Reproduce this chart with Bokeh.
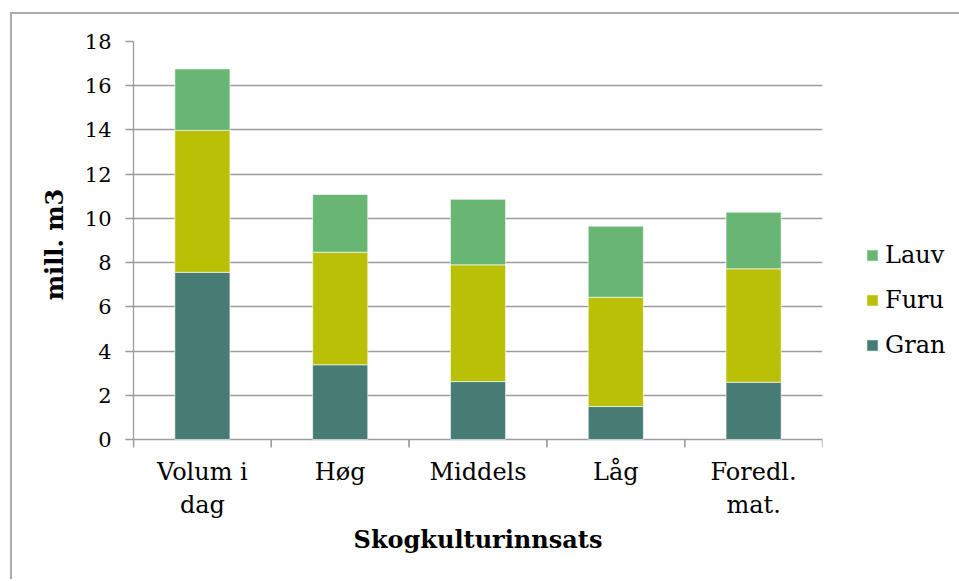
from bokeh.plotting import figure
from bokeh.models import (ColumnDataSource, FactorRange, Range1d, FixedTicker, Legend, LegendItem)
from bokeh.transform import dodge
from bokeh.embed import file_html
from bokeh.resources import INLINE

# ---- data ----
categories = ["Volum i\ndag", "Høg", "Middels", "Låg", "Foredl.\nmat."]
series = ["Gran", "Furu", "Lauv"]
gran = [7.56, 3.38, 2.62, 1.49, 2.59]
furu = [6.42, 5.09, 5.28, 4.94, 5.13]
lauv = [2.78, 2.61, 2.96, 3.22, 2.56]
y_ticks = [0, 2, 4, 6, 8, 10, 12, 14, 16, 18]
y_title = "mill. m3"
x_title = "Skogkulturinnsats"

# ---- style ----
colors = ["#467c73", "#b9c006", "#69b674"]
FONT = "DejaVu Serif"
GRID = "#9c9c9c"
TICK_EXT = 0.362  # room below zero for the category boundary tick marks (~8px)

source = ColumnDataSource(dict(cat=categories, Gran=gran, Furu=furu, Lauv=lauv,
                               base=[y_ticks[0]] * len(categories),
                               low=[y_ticks[0] - TICK_EXT] * len(categories)))

p = figure(frame_width=689, frame_height=406,
           x_range=FactorRange(factors=categories),
           y_range=Range1d(y_ticks[0] - TICK_EXT, y_ticks[-1]),
           output_backend="svg", toolbar_location=None,
           min_border_left=121, min_border_right=137, min_border_top=27, min_border_bottom=132)
p.styles = {"border-top": "2px solid #ababab", "border-left": "2px solid #ababab",
            "border-right": "0px none white", "border-bottom": "0px none white",
            "outline": "none", "box-shadow": "none",
            "clip-path": "inset(0px 6px 0px 0px)",
            "margin-left": "10px", "margin-top": "12px"}
p.outline_line_color = None
p.background_fill_color = "white"
p.border_fill_color = "white"

renderers = p.vbar_stack(series, x="cat", width=0.4, color=colors, source=source,
                         line_color="white", line_alpha=0.6, line_width=1)

# category boundary tick marks
for off in (-0.5, 0.5):
    p.segment(x0=dodge("cat", off, range=p.x_range), y0="base",
              x1=dodge("cat", off, range=p.x_range), y1="low",
              source=source, line_color=GRID, line_width=1.3)

# grid
p.xgrid.visible = False
p.ygrid.ticker = FixedTicker(ticks=y_ticks)
p.ygrid.grid_line_color = GRID
p.ygrid.grid_line_width = 1.3

# y axis
yax = p.yaxis[0]
yax.ticker = FixedTicker(ticks=y_ticks)
yax.major_tick_out = 8
yax.major_tick_in = 0
yax.minor_tick_out = 0
yax.minor_tick_in = 0
yax.axis_line_color = GRID
yax.axis_line_width = 1.3
yax.major_tick_line_color = GRID
yax.major_tick_line_width = 1.3
yax.major_label_text_font = FONT
yax.major_label_text_font_size = "21px"
yax.major_label_text_color = "black"
yax.major_label_standoff = 14
yax.axis_label = y_title
yax.axis_label_text_font = FONT
yax.axis_label_text_font_style = "bold"
yax.axis_label_text_font_size = "24px"
yax.axis_label_text_color = "black"
yax.axis_label_standoff = 13

# x axis
xax = p.xaxis[0]
xax.axis_line_color = None
xax.major_tick_line_color = None
xax.major_tick_out = 0
xax.major_tick_in = 0
xax.major_label_text_font = FONT
xax.major_label_text_font_size = "24px"
xax.major_label_text_color = "black"
xax.major_label_standoff = 10
xax.axis_label = x_title
xax.axis_label_text_font = FONT
xax.axis_label_text_font_style = "bold"
xax.axis_label_text_font_size = "24px"
xax.axis_label_text_color = "black"
xax.axis_label_standoff = 3

# legend (top to bottom: Lauv, Furu, Gran)
items = [LegendItem(label=s, renderers=[r]) for s, r in zip(series, renderers)][::-1]
legend = Legend(items=items, location=(43, 88), orientation="vertical",
                glyph_width=14, glyph_height=14, label_standoff=6, spacing=17,
                padding=0, margin=0, border_line_color=None, background_fill_alpha=0,
                label_text_font=FONT, label_text_font_size="24px", label_text_color="black")
p.add_layout(legend, "right")

open("out.html", "w").write(file_html(p, INLINE))
